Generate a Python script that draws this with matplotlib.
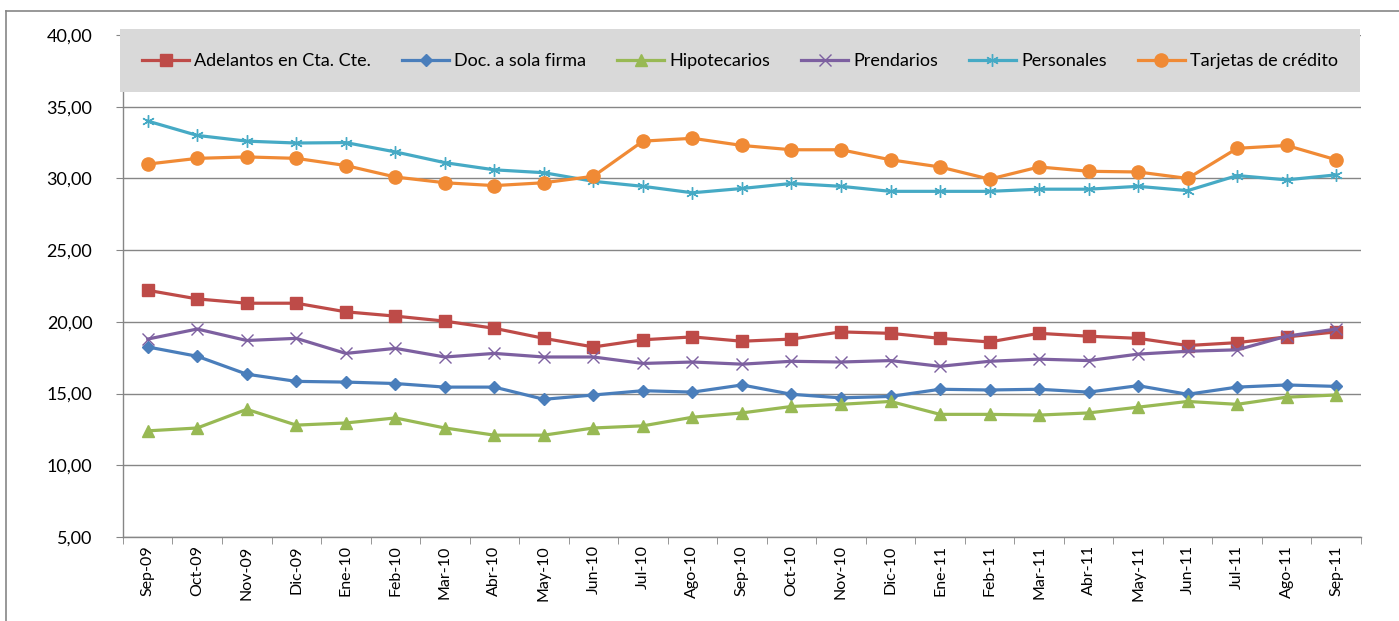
import matplotlib
matplotlib.use("Agg")
import matplotlib.pyplot as plt
import matplotlib.ticker as mticker
from matplotlib.lines import Line2D
from matplotlib.patches import Rectangle

plt.rcParams["font.family"] = ["Lato", "DejaVu Sans"]

meses = ["Sep-09", "Oct-09", "Nov-09", "Dic-09", "Ene-10", "Feb-10", "Mar-10",
         "Abr-10", "May-10", "Jun-10", "Jul-10", "Ago-10", "Sep-10", "Oct-10",
         "Nov-10", "Dic-10", "Ene-11", "Feb-11", "Mar-11", "Abr-11", "May-11",
         "Jun-11", "Jul-11", "Ago-11", "Sep-11"]

adelantos = [22.2, 21.6, 21.3, 21.3, 20.7, 20.4, 20.05, 19.55, 18.85, 18.25, 18.75,
             18.95, 18.65, 18.8, 19.3, 19.2, 18.85, 18.6, 19.2, 19.0, 18.85, 18.35,
             18.55, 18.95, 19.3]
documentos = [18.25, 17.6, 16.35, 15.85, 15.8, 15.7, 15.45, 15.45, 14.6, 14.9, 15.2,
              15.1, 15.6, 14.95, 14.7, 14.8, 15.3, 15.25, 15.3, 15.1, 15.55, 14.95,
              15.45, 15.6, 15.5]
hipotecarios = [12.4, 12.6, 13.9, 12.8, 12.95, 13.3, 12.6, 12.1, 12.1, 12.6, 12.75,
                13.35, 13.65, 14.1, 14.25, 14.45, 13.55, 13.55, 13.5, 13.65, 14.05,
                14.45, 14.25, 14.75, 14.9]
prendarios = [18.8, 19.5, 18.7, 18.85, 17.8, 18.15, 17.55, 17.8, 17.55, 17.55, 17.1,
              17.2, 17.05, 17.25, 17.2, 17.3, 16.9, 17.25, 17.4, 17.3, 17.75, 17.95,
              18.05, 19.0, 19.5]
personales = [34.0, 33.0, 32.6, 32.47, 32.5, 31.85, 31.1, 30.6, 30.4, 29.8, 29.45,
              29.0, 29.3, 29.65, 29.45, 29.1, 29.1, 29.1, 29.25, 29.25, 29.45, 29.15,
              30.2, 29.9, 30.25]
tarjetas = [31.0, 31.4, 31.5, 31.4, 30.9, 30.1, 29.7, 29.5, 29.7, 30.15, 32.6, 32.8,
            32.3, 32.0, 32.0, 31.3, 30.8, 29.95, 30.8, 30.5, 30.45, 30.0, 32.1, 32.3,
            31.3]

series = [
    ("Adelantos en Cta. Cte.", adelantos, "#BE4B48", "s", 8.5, None),
    ("Doc. a sola firma", documentos, "#4A7EBB", "D", 6.5, None),
    ("Hipotecarios", hipotecarios, "#98B954", "^", 8.5, None),
    ("Prendarios", prendarios, "#7D60A0", "x", 8.5, 1.0),
    ("Personales", personales, "#46AAC5", (6, 2, 0), 9, 1.0),
    ("Tarjetas de crédito", tarjetas, "#F08A35", "o", 9.5, None),
]

GRIS = "#868686"

fig = plt.figure(figsize=(13.99, 6.21), dpi=100)
ax = fig.add_axes([0.0879, 0.1353, 0.8849, 0.8083])

x = list(range(len(meses)))
handles = []
for nombre, valores, color, marca, tam, mew in series:
    kw = dict(color=color, linewidth=2.3, marker=marca, markersize=tam, label=nombre)
    if mew is not None:
        kw["markeredgewidth"] = mew
    else:
        kw["markeredgecolor"] = color
    h, = ax.plot(x, valores, zorder=3, **kw)
    handles.append(h)

ax.set_xlim(-0.5, len(meses) - 0.5)
ax.set_ylim(5, 40)
ax.yaxis.set_major_locator(mticker.MultipleLocator(5))
ax.yaxis.set_major_formatter(mticker.FuncFormatter(lambda v, _: f"{v:.2f}".replace(".", ",")))
ax.grid(axis="y", color=GRIS, linewidth=1)
ax.set_axisbelow(True)

ax.set_xticks(x)
ax.set_xticklabels(meses, rotation=90)
ax.xaxis.set_minor_locator(mticker.FixedLocator([i - 0.5 for i in range(len(meses) + 1)]))
ax.tick_params(axis="x", which="major", length=0, pad=6, labelsize=11.5)
ax.tick_params(axis="x", which="minor", length=5, color=GRIS)
ax.tick_params(axis="y", length=5, color=GRIS, labelsize=13, pad=17)

for lado in ["top", "right"]:
    ax.spines[lado].set_visible(False)
for lado in ["left", "bottom"]:
    ax.spines[lado].set_color(GRIS)
    ax.spines[lado].set_linewidth(1)

# recuadro gris de la leyenda, encima de la línea de 40
fig.add_artist(Rectangle((0.0858, 0.852), 0.8865, 0.101, transform=fig.transFigure,
                         facecolor="#D9D9D9", edgecolor="none", zorder=4))
leg = fig.legend(handles=handles, loc="center", bbox_to_anchor=(0.529, 0.902),
                 ncol=6, frameon=False, fontsize=13, handlelength=2.6,
                 columnspacing=1.7, handletextpad=0.3)
leg.set_zorder(5)

# marco exterior del gráfico
fig.add_artist(Line2D([0.0043, 0.0043], [0, 0.9823], color=GRIS, linewidth=1.2,
                      transform=fig.transFigure))
fig.add_artist(Line2D([0.0043, 1], [0.9823, 0.9823], color=GRIS, linewidth=1.2,
                      transform=fig.transFigure))

fig.savefig("out.png", dpi=100)
